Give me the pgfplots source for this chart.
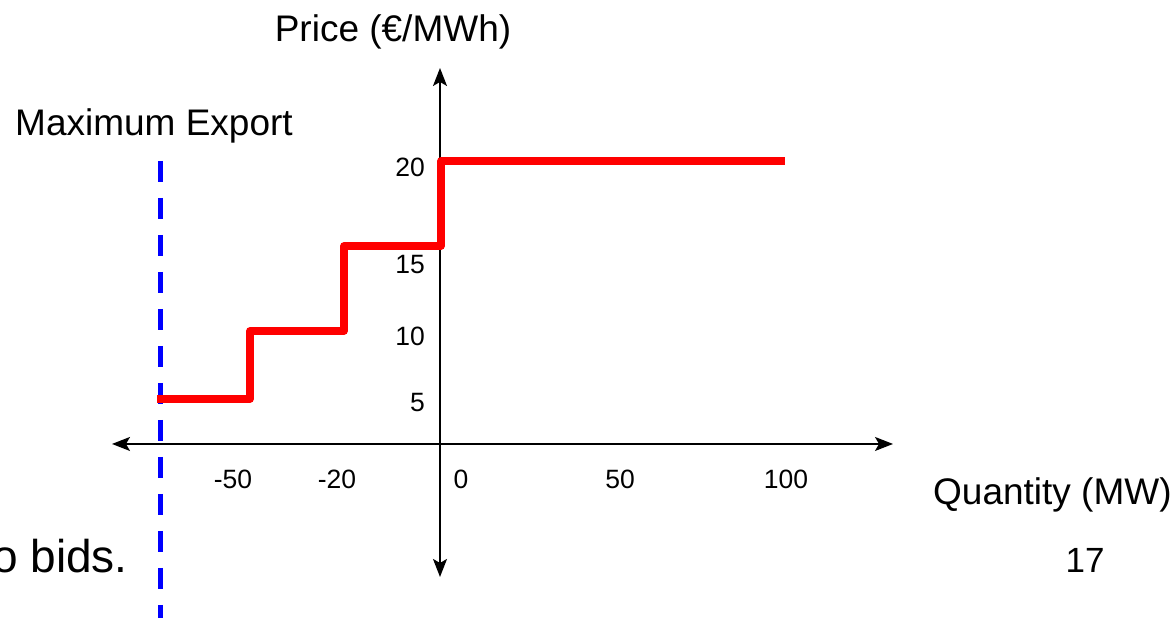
\documentclass[border=0pt]{standalone}
\usepackage{fontspec}
\setmainfont{Liberation Sans}
\usepackage{pgfplots}
\pgfplotsset{compat=1.18}
\usetikzlibrary{arrows.meta}
\begin{document}
\begin{tikzpicture}
\begin{axis}[
  width=1176pt, height=618pt, scale only axis,
  xmin=-440, xmax=736, ymin=-174, ymax=444,
  axis lines=middle,
  axis line style={draw=none},
  axis background/.style={fill=white},
  major tick length=0pt,
  xtick={-207,-103,21,180,346},
  xticklabels={-50,-20,0,50,100},
  ytick={41,108,179,277},
  yticklabels={5,10,15,20},
  /pgf/number format/assume math mode=true,
  xticklabel style={anchor=center, inner sep=0pt, yshift=-35pt, font=\fontsize{26.5}{31}\selectfont},
  yticklabel style={anchor=east, inner sep=0pt, xshift=-15pt, font=\fontsize{26.5}{31}\selectfont},
  clip=false,
]
\coordinate (SW) at (rel axis cs:0,0);
\coordinate (NE) at (rel axis cs:1,1);
% axes
\addplot[black, line width=1.5pt, {Stealth[length=18pt,width=14pt,inset=4pt]}-{Stealth[length=18pt,width=14pt,inset=4pt]}]
  coordinates {(-328,0) (453,0)};
\addplot[black, line width=1.5pt, {Stealth[length=18pt,width=14pt,inset=4pt]}-{Stealth[length=18pt,width=14pt,inset=4pt]}]
  coordinates {(0,-133) (0,376)};
% maximum export (dashed)
\addplot[blue, line width=5pt, dash pattern=on 21pt off 16pt]
  coordinates {(-280,283) (-280,-174)};
% supply steps
\addplot[red, line width=7.5pt, line join=round, line cap=butt]
  coordinates {(-283,45) (-190,45) (-190,113) (-96,113) (-96,198) (1,198) (1,283) (345,283)};
% texts
\node[anchor=base, inner sep=0pt, font=\fontsize{37}{43}\selectfont] at (axis cs:-47,402) {Price (€/MWh)};
\node[anchor=base west, inner sep=0pt, font=\fontsize{37}{43}\selectfont] at (axis cs:-425,308) {Maximum Export};
\node[anchor=base west, inner sep=0pt, font=\fontsize{37}{43}\selectfont] at (axis cs:493,-61) {Quantity (MW)};
\node[anchor=base, inner sep=0pt, font=\fontsize{35}{42}\selectfont] at (axis cs:645,-129) {17};
\node[anchor=base east, inner sep=0pt, font=\fontsize{46}{54}\selectfont] at (axis cs:-312,-129) {o bids.};
\end{axis}
\pgfresetboundingbox
\useasboundingbox (SW) rectangle (NE);
\end{tikzpicture}
\end{document}
